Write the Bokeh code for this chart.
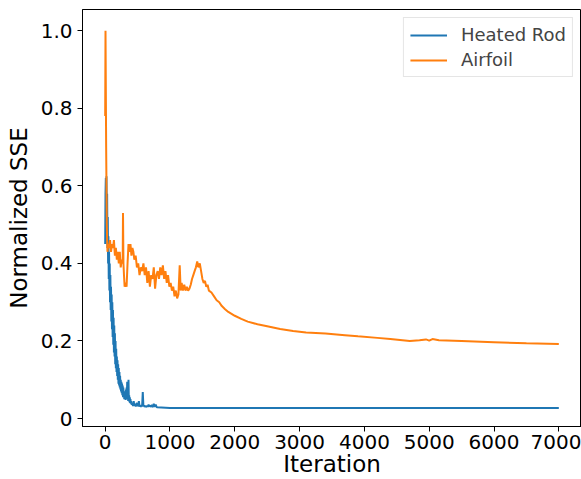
from bokeh.plotting import figure
from bokeh.models import Range1d, FixedTicker
from bokeh.embed import file_html
from bokeh.resources import INLINE

# ---- data ----
rod_iter_a = list(range(0, 405, 5))
rod_sse_a = [
    0.45, 0.58, 0.62, 0.55, 0.625, 0.50, 0.58, 0.44, 0.52, 0.40,
    0.47, 0.36, 0.43, 0.33, 0.40, 0.30, 0.37, 0.28, 0.34, 0.25,
    0.32, 0.23, 0.30, 0.21, 0.28, 0.19, 0.26, 0.17, 0.24, 0.16,
    0.22, 0.14, 0.20, 0.13, 0.18, 0.12, 0.16, 0.11, 0.15, 0.10,
    0.14, 0.09, 0.13, 0.085, 0.12, 0.08, 0.11, 0.075, 0.10, 0.07,
    0.095, 0.065, 0.09, 0.06, 0.085, 0.055, 0.08, 0.055, 0.07, 0.05,
    0.065, 0.05, 0.07, 0.048, 0.075, 0.05, 0.08, 0.06, 0.095, 0.05,
    0.07, 0.045, 0.10, 0.045, 0.06, 0.042, 0.055, 0.04, 0.05, 0.038,
    0.045,
]
rod_iter_b = list(range(410, 810, 10))
rod_sse_b = [
    0.035, 0.04, 0.032, 0.045, 0.033, 0.038, 0.031, 0.036, 0.040, 0.032,
    0.034, 0.045, 0.031, 0.033, 0.030, 0.035, 0.031, 0.068, 0.031, 0.034,
    0.030, 0.032, 0.031, 0.030, 0.033, 0.030, 0.036, 0.031, 0.034, 0.030,
    0.032, 0.035, 0.031, 0.030, 0.038, 0.030, 0.033, 0.036, 0.031, 0.029,
]
rod_iter_c = [1000, 7000]
rod_sse_c = [0.027, 0.027]

airfoil_iter = [
    0, 5, 15, 25, 35, 45, 60, 75, 90, 105, 120, 135, 150, 165, 180, 195,
    210, 225, 240, 255, 270, 275, 282, 290, 300, 315, 330, 345, 360, 375,
    390, 405, 420, 435, 450, 470, 490, 510, 530, 550, 570, 590, 610, 630,
    650, 670, 690, 710, 730, 750, 770, 790, 810, 830, 850, 870, 890, 910,
    930, 950, 970, 990, 1010, 1030, 1050, 1070, 1090, 1110, 1130, 1150,
    1165, 1180, 1200, 1220, 1240, 1260, 1280, 1300, 1320, 1340, 1360, 1380,
    1400, 1420, 1440, 1460, 1480, 1500, 1520, 1540, 1560, 1580, 1600, 1640,
    1680, 1720, 1760, 1800, 1850, 1900, 2000, 2100, 2200, 2350, 2500, 2700,
    2900, 3100, 3400, 3700, 3900, 4200, 4400, 4700, 4850, 4950, 5000, 5050,
    5150, 5500, 6000, 6500, 7000,
]
airfoil_sse = [
    0.78, 1.0, 0.70, 0.50, 0.43, 0.45, 0.44, 0.46, 0.43, 0.45, 0.44, 0.46,
    0.42, 0.44, 0.41, 0.43, 0.40, 0.43, 0.39, 0.41, 0.40, 0.53, 0.40, 0.37,
    0.34, 0.35, 0.34, 0.40, 0.45, 0.43, 0.45, 0.42, 0.44, 0.43, 0.41, 0.42,
    0.39, 0.40, 0.37, 0.39, 0.38, 0.40, 0.37, 0.39, 0.35, 0.38, 0.34, 0.37,
    0.36, 0.39, 0.335, 0.37, 0.38, 0.36, 0.39, 0.37, 0.395, 0.36, 0.38, 0.35,
    0.37, 0.34, 0.35, 0.33, 0.34, 0.315, 0.33, 0.31, 0.32, 0.395, 0.33, 0.35,
    0.33, 0.345, 0.33, 0.34, 0.33, 0.335, 0.345, 0.36, 0.37, 0.38, 0.39,
    0.405, 0.39, 0.40, 0.38, 0.36, 0.35, 0.355, 0.34, 0.345, 0.33, 0.325,
    0.315, 0.305, 0.30, 0.29, 0.282, 0.275, 0.265, 0.257, 0.25, 0.243, 0.238,
    0.231, 0.226, 0.222, 0.219, 0.215, 0.212, 0.208, 0.205, 0.200, 0.202,
    0.204, 0.201, 0.205, 0.202, 0.200, 0.197, 0.194, 0.192,
]

x_ticks = [0, 1000, 2000, 3000, 4000, 5000, 6000, 7000]
y_ticks = [0, 0.2, 0.4, 0.6, 0.8, 1.0]
y_tick_labels = ["0", "0.2", "0.4", "0.6", "0.8", "1.0"]

# ---- figure ----
FONT = "DejaVu Sans"
p = figure(
    width=581, height=479,
    output_backend="svg", toolbar_location=None,
    x_range=Range1d(-350, 7350), y_range=Range1d(-0.0206, 1.055),
    min_border_left=82, min_border_right=0, min_border_top=9, min_border_bottom=53,
)
p.background_fill_color = "white"
p.border_fill_color = "white"
p.outline_line_color = "black"
p.outline_line_width = 1
p.xgrid.visible = False
p.ygrid.visible = False

rod_x = rod_iter_a + rod_iter_b + rod_iter_c
rod_y = rod_sse_a + rod_sse_b + rod_sse_c
p.line(rod_x, rod_y, line_color="#1f77b4", line_width=2, legend_label="Heated Rod")
p.line(airfoil_iter, airfoil_sse, line_color="#ff7f0e", line_width=2, legend_label="Airfoil")

p.xaxis.ticker = FixedTicker(ticks=x_ticks)
p.yaxis.ticker = FixedTicker(ticks=y_ticks)
p.yaxis.major_label_overrides = {t: l for t, l in zip(y_ticks, y_tick_labels)}
p.xaxis.axis_label = "Iteration"
p.yaxis.axis_label = "Normalized SSE"
for ax in (p.xaxis[0], p.yaxis[0]):
    ax.axis_line_color = "black"
    ax.axis_line_width = 1
    ax.major_tick_line_color = "black"
    ax.major_tick_in = 0
    ax.major_tick_out = 5
    ax.minor_tick_line_color = None
    ax.major_label_text_font = FONT
    ax.major_label_text_font_size = "20px"
    ax.major_label_text_color = "black"
    ax.axis_label_text_font = FONT
    ax.axis_label_text_font_size = "23px"
    ax.axis_label_text_font_style = "normal"
    ax.axis_label_text_color = "black"
p.xaxis.major_label_standoff = 3
p.xaxis.axis_label_standoff = -1
p.yaxis.major_label_standoff = 5
p.yaxis.axis_label_standoff = 6

lg = p.legend[0]
lg.location = "top_right"
lg.margin = 8
lg.padding = 6
lg.spacing = 4
lg.glyph_width = 37
lg.glyph_height = 20
lg.label_height = 20
lg.label_standoff = 14
lg.label_text_font = FONT
lg.label_text_font_size = "18px"
lg.border_line_color = "#cccccc"
lg.border_line_width = 1
lg.background_fill_alpha = 0.8

open("out.html", "w").write(file_html(p, INLINE))
